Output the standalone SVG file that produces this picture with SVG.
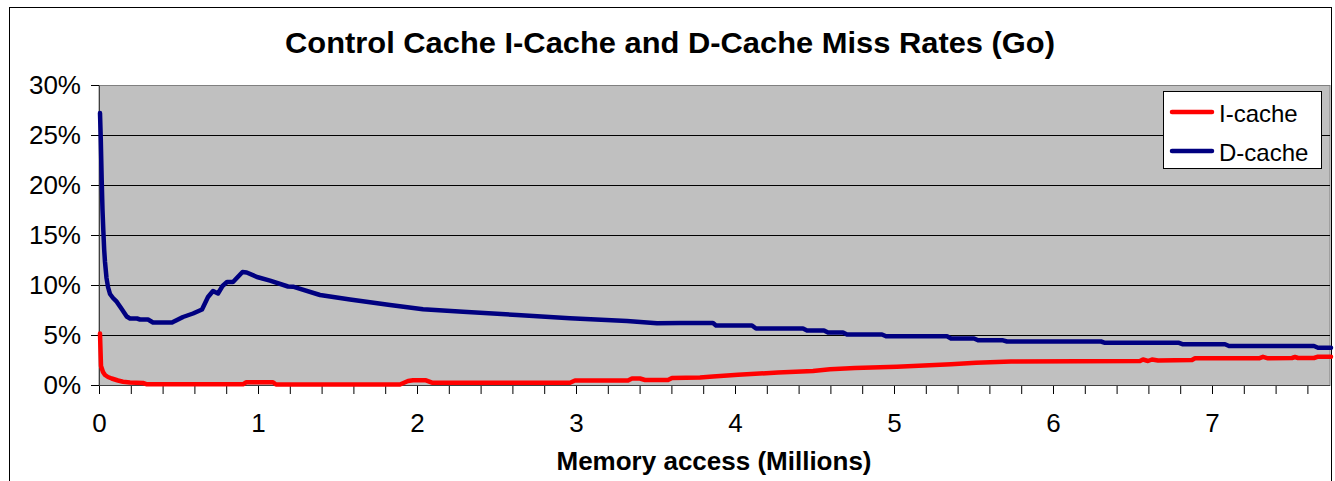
<svg xmlns="http://www.w3.org/2000/svg" width="1335" height="481" viewBox="0 0 1335 481">
<style>
.t{font-family:"Liberation Sans",Arial,sans-serif;fill:#000}
.ylab{font-size:26px;text-anchor:end}
.xlab{font-size:26px;text-anchor:middle}
.grid{stroke:#000;stroke-width:1;fill:none}
.tick{stroke:#000;stroke-width:1;fill:none}
.ser{fill:none;stroke-width:4.5;stroke-linejoin:round;stroke-linecap:round}
</style>
<rect x="0" y="0" width="1335" height="481" fill="#fff"/>
<rect id="chart-border" x="9.5" y="7.5" width="1322" height="500" fill="#fff" stroke="#000" stroke-width="1"/>
<text id="title" class="t" x="670" y="53" font-size="30" font-weight="bold" text-anchor="middle" textLength="770" lengthAdjust="spacingAndGlyphs">Control Cache I-Cache and D-Cache Miss Rates (Go)</text>
<g id="plot">
<rect x="99" y="85.5" width="1231" height="300" fill="#c0c0c0" stroke="#808080" stroke-width="1"/>
<g class="grid">
<line x1="99" y1="135.5" x2="1330" y2="135.5"/>
<line x1="99" y1="185.5" x2="1330" y2="185.5"/>
<line x1="99" y1="235.5" x2="1330" y2="235.5"/>
<line x1="99" y1="285.5" x2="1330" y2="285.5"/>
<line x1="99" y1="335.5" x2="1330" y2="335.5"/>
</g>
</g>
<g id="axes">
<line x1="99.5" y1="85.5" x2="99.5" y2="386" stroke="#404040" stroke-width="1"/>
<line x1="99" y1="385.5" x2="1330" y2="385.5" stroke="#404040" stroke-width="1"/>
<g class="tick">
<line x1="91" y1="85.5" x2="99" y2="85.5"/>
<line x1="91" y1="135.5" x2="99" y2="135.5"/>
<line x1="91" y1="185.5" x2="99" y2="185.5"/>
<line x1="91" y1="235.5" x2="99" y2="235.5"/>
<line x1="91" y1="285.5" x2="99" y2="285.5"/>
<line x1="91" y1="335.5" x2="99" y2="335.5"/>
<line x1="91" y1="385.5" x2="99" y2="385.5"/>
</g>
<path class="tick" d="M99.5 386v8M131.3 386v8M163.1 386v8M194.9 386v8M226.7 386v8M258.5 386v8M290.3 386v8M322.1 386v8M353.9 386v8M385.7 386v8M417.5 386v8M449.3 386v8M481.1 386v8M512.9 386v8M544.7 386v8M576.5 386v8M608.3 386v8M640.1 386v8M671.9 386v8M703.7 386v8M735.5 386v8M767.3 386v8M799.1 386v8M830.9 386v8M862.7 386v8M894.5 386v8M926.3 386v8M958.1 386v8M989.9 386v8M1021.7 386v8M1053.5 386v8M1085.3 386v8M1117.1 386v8M1148.9 386v8M1180.7 386v8M1212.5 386v8M1244.3 386v8M1276.1 386v8M1307.9 386v8"/>
<g class="t ylab">
<text x="81" y="94">30%</text>
<text x="81" y="144">25%</text>
<text x="81" y="194">20%</text>
<text x="81" y="244">15%</text>
<text x="81" y="294">10%</text>
<text x="81" y="344">5%</text>
<text x="81" y="394">0%</text>
</g>
<g class="t xlab">
<text x="99.5" y="432">0</text>
<text x="258.5" y="432">1</text>
<text x="417.5" y="432">2</text>
<text x="576.5" y="432">3</text>
<text x="735.5" y="432">4</text>
<text x="894.5" y="432">5</text>
<text x="1053.5" y="432">6</text>
<text x="1212.5" y="432">7</text>
</g>
<text id="x-title" class="t" x="714" y="470" font-size="26" font-weight="bold" text-anchor="middle">Memory access (Millions)</text>
</g>
<g id="series">
<polyline id="d-cache" class="ser" stroke="#000080" points="100,113 100.8,140 101.7,180 102.5,210 103.3,230 104.2,250 105,262 106.5,278 108,287 110,294 113,298 116.7,301.7 121.7,309 126.7,316.5 130,318.5 137,318.5 140,319.5 148,319.5 153,322.5 172,322.5 183,317 193,313.5 202,309.5 208,297 213,291 218,293.5 222.5,286 227,282 233,282 242.5,272 246.7,272.5 257,277 270,280.7 288,286.5 293,286.7 320,295 350,299.5 390,305 423,309.3 463,311.7 517,315 570,318.3 627,321 657,323.3 680,323 713,323 716,325.5 752,325.5 756,328.5 803,328.5 807,330.5 824,330.5 828,332.5 843,332.5 847,334.5 882,334.5 886,336.3 947,336.3 951,338.5 974,338.5 978,340.3 1003,340.3 1007,341.5 1101,341.5 1105,342.8 1179,342.8 1183,344.3 1225,344.3 1229,346 1314,346 1318,347.7 1331,347.7"/>
<polyline id="i-cache" class="ser" stroke="#ff0000" points="100,333.5 100.5,350 101,366 103,372 105,375 108,377 111.7,378.5 118,380.5 123,381.7 130,382.5 143,383 147,384.3 243,384.3 246,382.3 273,382.3 276,384.5 400,384.5 408,381 413,380.3 426,380.3 432,382.7 570,382.7 575,380.5 628,380.5 632,378.5 640,378.5 645,380 668,380 672,378 700,377.5 713,376.5 738,374.7 778,372.5 813,371 830,369.3 855,368 897,366.7 951,364.3 976,362.7 1011,361.5 1140,361 1143,359.5 1148,361 1152,359.5 1158,360.5 1192,360 1195,358.3 1259,358.3 1263,356.8 1268,358.3 1292,358 1295,357 1298,358 1314,358 1318,356.7 1331,356.7"/>
</g>
<g id="legend">
<rect x="1163.5" y="91.5" width="158" height="77" fill="#fff" stroke="#000" stroke-width="1"/>
<line x1="1172" y1="112" x2="1212" y2="112" stroke="#ff0000" stroke-width="4.5" stroke-linecap="round"/>
<line x1="1172" y1="151" x2="1212" y2="151" stroke="#000080" stroke-width="4.5" stroke-linecap="round"/>
<text class="t" x="1219" y="122" font-size="24">I-cache</text>
<text class="t" x="1219" y="161" font-size="24">D-cache</text>
</g>
</svg>
